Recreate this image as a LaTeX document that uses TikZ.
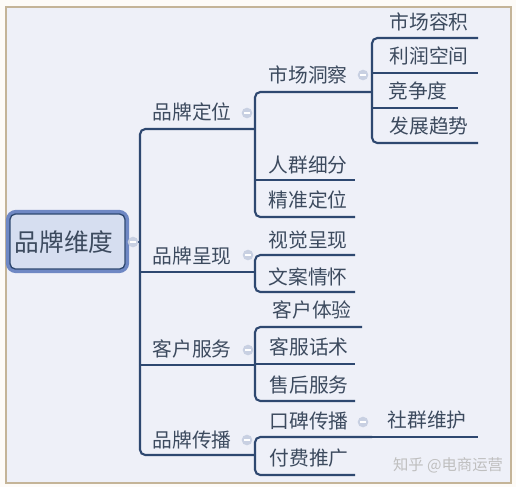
\documentclass[tikz,border=0pt]{standalone}
\usepackage{fontspec}
\newfontfamily\cjk{Noto Sans CJK SC}
\definecolor{bgout}{HTML}{FDFBF8}
\definecolor{bgin}{HTML}{EEF0F8}
\definecolor{frame}{HTML}{C4B498}
\definecolor{txt}{HTML}{3C4A5E}
\definecolor{ln}{HTML}{2E4870}
\definecolor{rootfill}{HTML}{D6DEF0}
\definecolor{rootout}{HTML}{6F88C4}
\definecolor{mk}{HTML}{C8D0E2}
\tikzset{
  lbl/.style={font=\cjk\fontsize{14.8}{16}\selectfont, text=txt, inner sep=0pt},
  conn/.style={draw=ln, line width=1.6pt, rounded corners=4pt},
  marker/.style={circle, fill=mk, minimum size=8pt, inner sep=0pt,
    path picture={\draw[white, line width=0.8pt] ([xshift=-2pt]path picture bounding box.center) -- ([xshift=2pt]path picture bounding box.center);}},
}
\begin{document}
\begin{tikzpicture}[x=0.75pt, y=-0.75pt]
\useasboundingbox (0,0) rectangle (516,487);
\fill[bgout] (0,0) rectangle (516,487);
\draw[frame, fill=bgin, line width=1.3pt] (6,7) rectangle (511,483);

% coordinates
\coordinate (rootR) at (127,242);
\coordinate (T1) at (140,129);
\coordinate (T2) at (140,272);
\coordinate (T3) at (140,365);
\coordinate (T4) at (140,455);
\coordinate (B1) at (255,129);
\coordinate (B2) at (255,272);
\coordinate (B3) at (255,365);
\coordinate (B4) at (255,455);
\coordinate (rootJ) at (140,242);
% level 2 lines
\coordinate (a1s) at (255,92);  \coordinate (a1e) at (372,92);
\coordinate (a2s) at (255,180); \coordinate (a2e) at (355,180);
\coordinate (a3s) at (255,217); \coordinate (a3e) at (355,217);
\coordinate (b1s) at (255,255); \coordinate (b1e) at (355,255);
\coordinate (b2s) at (255,292); \coordinate (b2e) at (355,292);
\coordinate (c1s) at (255,327); \coordinate (c1e) at (362,327);
\coordinate (c2s) at (255,364); \coordinate (c2e) at (355,364);
\coordinate (c3s) at (255,401); \coordinate (c3e) at (355,401);
\coordinate (d1s) at (255,437); \coordinate (d1e) at (372,437);
\coordinate (d2s) at (255,475); \coordinate (d2e) at (355,475);
% level 3 lines
\coordinate (m1s) at (372,38);  \coordinate (m1e) at (478,38);
\coordinate (m2s) at (372,73);  \coordinate (m2e) at (478,73);
\coordinate (m3s) at (372,108); \coordinate (m3e) at (458,108);
\coordinate (m4s) at (372,143); \coordinate (m4e) at (478,143);
\coordinate (s1e) at (478,437);

% connectors
\draw[conn] (rootR) -- (rootJ);
\draw[conn] (B1) -- (T1) -- (T4) -- (B4);
\draw[conn] (T2) -- (B2);
\draw[conn] (T3) -- (B3);
\draw[conn] (a1e) -- (a1s) -- (a3s) -- (a3e);
\draw[conn] (a2s) -- (a2e);
\draw[conn] (b1e) -- (b1s) -- (b2s) -- (b2e);
\draw[conn] (c1e) -- (c1s) -- (c3s) -- (c3e);
\draw[conn] (c2s) -- (c2e);
\draw[conn] (d1e) -- (d1s) -- (d2s) -- (d2e);
\draw[conn] (d1e) -- (s1e);
\draw[conn] (m1e) -- (m1s) -- (m4s) -- (m4e);
\draw[conn] (m2s) -- (m2e);
\draw[conn] (m3s) -- (m3e);

% root
\draw[rootout, line width=3.2pt, rounded corners=6pt] (8,212) rectangle (127,271);
\draw[ln, fill=rootfill, line width=1pt, rounded corners=4pt] (10,214) rectangle (125,269);
\node[font=\cjk\fontsize{18.5}{20}\selectfont, text=txt, inner sep=0pt] (root) at (64,242) {品牌维度};

% markers
\node[marker] (mkroot) at (133,242) {};
\node[marker] (mk1) at (247,113) {};
\node[marker] (mk11) at (363,75) {};
\node[marker] (mk2) at (248,255) {};
\node[marker] (mk3) at (248,350) {};
\node[marker] (mk4) at (247,440) {};
\node[marker] (mk41) at (363,422) {};

% labels
\node[lbl] (n1) at (192,112) {品牌定位};
\node[lbl] (n2) at (192,256) {品牌呈现};
\node[lbl] (n3) at (192,349) {客户服务};
\node[lbl] (n4) at (192,440) {品牌传播};
\node[lbl] (n11) at (308,75) {市场洞察};
\node[lbl] (n12) at (308,165) {人群细分};
\node[lbl] (n13) at (308,200) {精准定位};
\node[lbl] (n21) at (308,240) {视觉呈现};
\node[lbl] (n22) at (308,277) {文案情怀};
\node[lbl] (n31) at (312,310) {客户体验};
\node[lbl] (n32) at (309,347) {客服话术};
\node[lbl] (n33) at (309,385) {售后服务};
\node[lbl] (n41) at (309,421) {口碑传播};
\node[lbl] (n42) at (309,458) {付费推广};
\node[lbl] (n111) at (429,22) {市场容积};
\node[lbl] (n112) at (429,56) {利润空间};
\node[lbl] (n113) at (418,91) {竞争度};
\node[lbl] (n114) at (429,126) {发展趋势};
\node[lbl] (n411) at (427,420) {社群维护};
\node[font=\cjk\fontsize{11.5}{13}\selectfont, text=black!25, inner sep=0pt] (wm) at (448,465) {知乎 @电商运营};
\end{tikzpicture}
\end{document}
